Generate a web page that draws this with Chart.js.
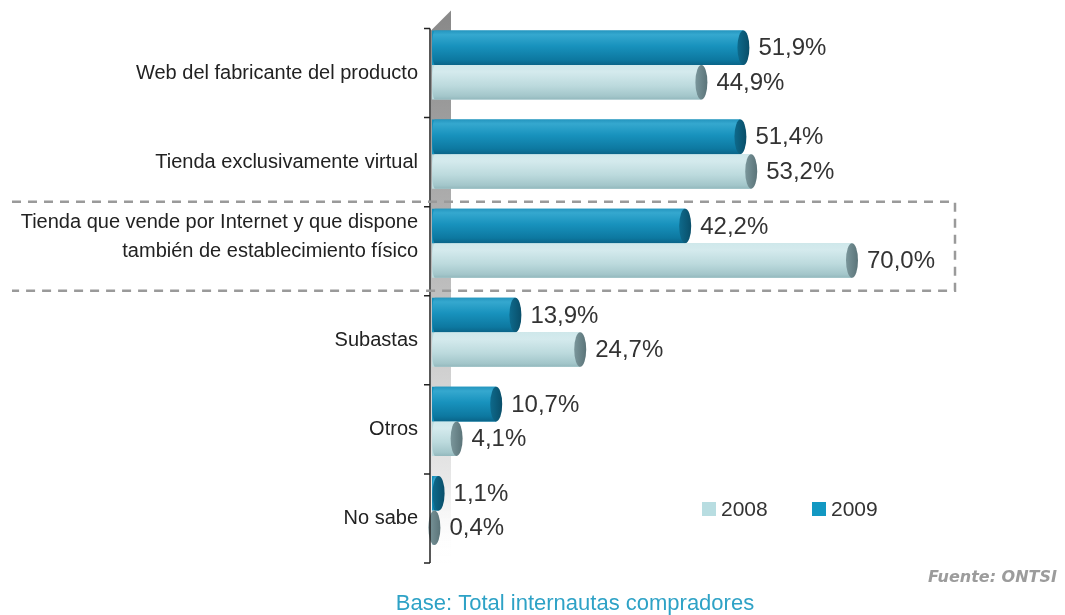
<!DOCTYPE html>
<html>
<head>
<meta charset="utf-8">
<script src="https://cdn.jsdelivr.net/npm/chart.js@4/dist/chart.umd.min.js"></script>
<style>
  body { margin: 0; background: #fff; }
  #wrap { width: 1065px; height: 615px; }
</style>
</head>
<body>
<div id="wrap"><canvas id="myChart" width="1065" height="615"></canvas></div>
<script>
// categories and yearly shares (%)
var categories = [
  'Web del fabricante del producto',
  'Tienda exclusivamente virtual',
  ['Tienda que vende por Internet y que dispone', 'también de establecimiento físico', ''],
  'Subastas',
  'Otros',
  'No sabe'
];
var values2009 = [51.9, 51.4, 42.2, 13.9, 10.7, 1.1];
var values2008 = [44.9, 53.2, 70.0, 24.7, 4.1, 0.4];
var seriesNames = ['2009', '2008'];

var FONT = '"Liberation Sans", Arial, sans-serif';
var DEPTH = 8;   // vertical shift of the back wall / axis behind the bars

var looks = {
  '2009': {
    flat: '#1592bd',
    legend: '#1298c2',
    body: [[0, '#2596bf'], [0.12, '#35a8cf'], [0.45, '#1892bd'], [0.85, '#0d78a0'], [1, '#0a6488']],
    cap: ['#0e6a8c', '#094e69']
  },
  '2008': {
    flat: '#bcdcdf',
    legend: '#b8dde1',
    body: [[0, '#cfe8eb'], [0.2, '#d4eaed'], [0.6, '#bcdadd'], [0.9, '#a3c6ca'], [1, '#93b8bd']],
    cap: ['#7a969b', '#5b7479']
  }
};

function fmt(v) {
  return v.toFixed(1).replace('.', ',') + '%';
}

function drawCylinder(ctx, el, look) {
  var h = el.height, top = el.y - h / 2, bot = el.y + h / 2;
  var x0 = el.base, x1 = el.x, rx = 6, lr = 3;
  var g = ctx.createLinearGradient(0, top, 0, bot);
  look.body.forEach(function (s) { g.addColorStop(s[0], s[1]); });
  ctx.beginPath();
  ctx.moveTo(x0 + lr, top);
  ctx.lineTo(x1, top);
  ctx.lineTo(x1, bot);
  ctx.lineTo(x0 + lr, bot);
  ctx.ellipse(x0 + lr, el.y, lr, h / 2, 0, Math.PI / 2, Math.PI * 1.5);
  ctx.closePath();
  ctx.fillStyle = g;
  ctx.fill();

  var cg = ctx.createLinearGradient(x1 - rx, 0, x1 + rx, 0);
  cg.addColorStop(0, look.cap[0]);
  cg.addColorStop(1, look.cap[1]);
  ctx.beginPath();
  ctx.ellipse(x1, el.y, rx, h / 2, 0, 0, Math.PI * 2);
  ctx.fillStyle = cg;
  ctx.fill();
}

var cylinderPlugin = {
  id: 'cylinders',
  beforeDatasetsDraw: function (chart) {
    var ctx = chart.ctx, a = chart.chartArea;
    // grey back wall
    var wx = a.left - 1, ww = 20;
    var wg = ctx.createLinearGradient(0, a.top, 0, a.bottom + DEPTH);
    wg.addColorStop(0, '#8a8a8a');
    wg.addColorStop(0.45, '#b9b9b9');
    wg.addColorStop(0.85, '#e8e8e8');
    wg.addColorStop(1, 'rgba(255,255,255,0)');
    ctx.save();
    ctx.beginPath();
    ctx.moveTo(wx, a.top + 10);
    ctx.lineTo(wx + ww, a.top - 10);
    ctx.lineTo(wx + ww, a.bottom + DEPTH);
    ctx.lineTo(wx, a.bottom + DEPTH);
    ctx.closePath();
    ctx.fillStyle = wg;
    ctx.fill();
    ctx.restore();
  },
  afterDatasetsDraw: function (chart) {
    var ctx = chart.ctx, a = chart.chartArea, yScale = chart.scales.y;
    ctx.save();
    chart.data.datasets.forEach(function (ds, di) {
      var meta = chart.getDatasetMeta(di);
      var look = looks[ds.label];
      meta.data.forEach(function (el, i) {
        drawCylinder(ctx, el, look);
        ctx.fillStyle = '#333';
        ctx.font = '24px ' + FONT;
        ctx.textAlign = 'left';
        ctx.textBaseline = 'middle';
        ctx.fillText(fmt(ds.data[i]), el.x + 15, el.y + 1);
      });
    });

    // category axis with tick marks
    var n = categories.length, step = yScale.height / n, ax = a.left - 2;
    ctx.strokeStyle = '#222';
    ctx.lineWidth = 1.5;
    ctx.beginPath();
    ctx.moveTo(ax, yScale.top + DEPTH);
    ctx.lineTo(ax, yScale.bottom + DEPTH);
    for (var k = 0; k <= n; k++) {
      var ty = yScale.top + k * step + DEPTH;
      ctx.moveTo(ax - 6, ty);
      ctx.lineTo(ax, ty);
    }
    ctx.stroke();

    // dashed frame around the third category
    var c3 = yScale.getPixelForValue(2);
    var fTop = c3 - step / 2 + 3, fBot = c3 + step / 2 + 3, fRight = 955;
    ctx.strokeStyle = '#9a9a9a';
    ctx.lineWidth = 2.5;
    ctx.setLineDash([9, 7]);
    ctx.beginPath();
    ctx.moveTo(12, fTop);
    ctx.lineTo(fRight, fTop);
    ctx.lineTo(fRight, fBot);
    ctx.lineTo(12, fBot);
    ctx.stroke();
    ctx.setLineDash([]);

    // legend
    var legendItems = [['2008', 702], ['2009', 812]];
    ctx.font = '21px ' + FONT;
    ctx.textBaseline = 'middle';
    legendItems.forEach(function (it) {
      ctx.fillStyle = looks[it[0]].legend;
      ctx.fillRect(it[1], 502, 14, 14);
      ctx.fillStyle = '#333';
      ctx.fillText(it[0], it[1] + 19, 510);
    });

    // source and base notes
    ctx.font = 'italic bold 16px "DejaVu Sans", Verdana, sans-serif';
    ctx.fillStyle = '#9c9c9c';
    ctx.textAlign = 'right';
    ctx.fillText('Fuente: ONTSI', 1057, 578);
    ctx.font = '22px ' + FONT;
    ctx.fillStyle = '#2ea2c6';
    ctx.textAlign = 'center';
    ctx.fillText('Base: Total internautas compradores', 575, 604);
    ctx.restore();
  }
};

var ctx = document.getElementById('myChart').getContext('2d');
var myChart = new Chart(ctx, {
  type: 'bar',
  data: {
    labels: categories,
    datasets: [{
      label: seriesNames[0],
      data: values2009,
      backgroundColor: looks['2009'].flat
    }, {
      label: seriesNames[1],
      data: values2008,
      backgroundColor: looks['2008'].flat
    }]
  },
  options: {
    indexAxis: 'y',
    responsive: false,
    animation: false,
    categoryPercentage: 0.775,
    barPercentage: 1.0,
    borderSkipped: false,
    layout: { padding: { left: 0, right: 33, top: 12, bottom: 60 } },
    plugins: {
      legend: { display: false },
      tooltip: { enabled: false }
    },
    scales: {
      x: { display: false, min: 0, max: 100 },
      y: {
        grid: { display: false },
        border: { display: false },
        afterFit: function (scale) { scale.width = 432; },
        ticks: {
          padding: 6,
          labelOffset: DEPTH,
          color: '#222',
          font: { family: FONT, size: 20, lineHeight: 1.45 }
        }
      }
    }
  },
  plugins: [cylinderPlugin]
});
</script>
</body>
</html>
